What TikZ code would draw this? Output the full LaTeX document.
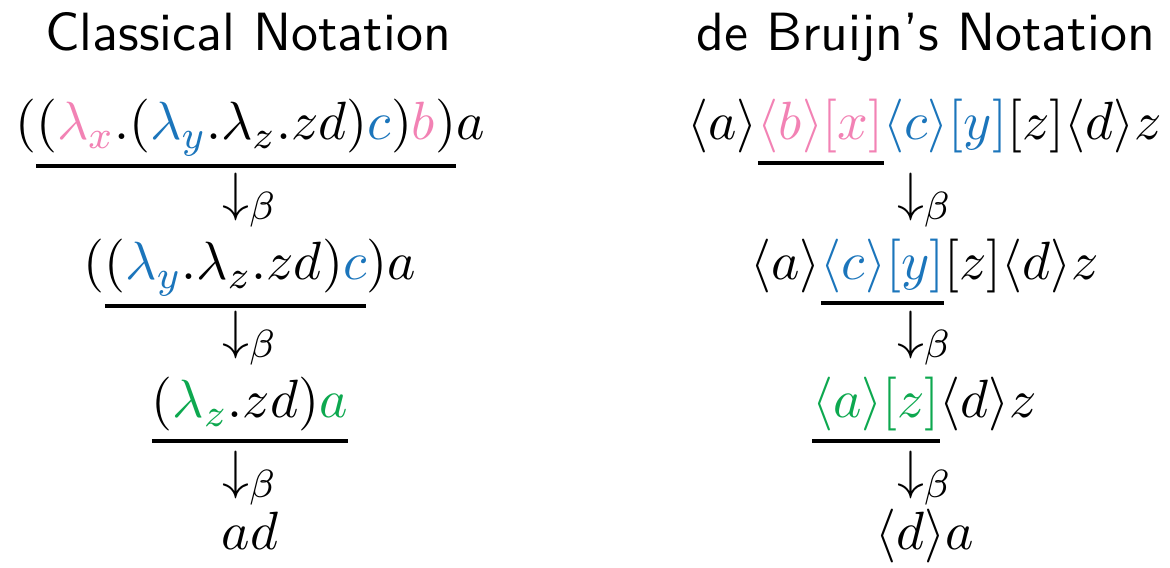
\documentclass[tikz,border=0pt]{standalone}
\usepackage{tikz}
\definecolor{cpink}{HTML}{F282B4}
\definecolor{cblue}{HTML}{1B75BB}
\definecolor{cgreen}{HTML}{0DA84F}
\newcommand{\redex}[1]{\vtop{\hbox{$#1$}\kern1.6pt\hrule height 0.8pt}}
\newcommand{\pk}[1]{{\color{cpink}#1}}
\newcommand{\bl}[1]{{\color{cblue}#1}}
\newcommand{\gr}[1]{{\color{cgreen}#1}}

\begin{document}
\begin{tikzpicture}[
  font=\fontsize{10.95}{13.6}\selectfont,
  head/.style={font=\fontsize{10.95}{13.6}\selectfont\sffamily, anchor=base, inner sep=0pt, scale=2.46},
  term/.style={anchor=base, inner sep=0pt, scale=2.46},
  beta/.style={anchor=base, inner sep=0pt, scale=2.46}
]
\useasboundingbox (-10.28,2.46) rectangle (10.28,-7.52);
% classical column
\node[head] (hcl) at (-5.92,1.58) {Classical Notation};
\node[term] (c1) at (-5.89, 0)    {$(\redex{(\pk{\lambda_x}.(\bl{\lambda_y}.\lambda_z.zd)\bl{c})\pk{b})}a$};
\node[beta] (cb1) at (-5.89,-1.24) {$\downarrow_\beta$};
\node[term] (c2) at (-5.89,-2.46) {$(\redex{(\bl{\lambda_y}.\lambda_z.zd)\bl{c}})a$};
\node[beta] (cb2) at (-5.89,-3.67) {$\downarrow_\beta$};
\node[term] (c3) at (-5.89,-4.885) {$\redex{(\gr{\lambda_z}.zd)\gr{a}}$};
\node[beta] (cb3) at (-5.89,-6.13) {$\downarrow_\beta$};
\node[term] (c4) at (-5.89,-7.20) {$ad$};
% de Bruijn column
\node[head] (hdb) at (5.99,1.58) {de Bruijn's Notation};
\node[term] (d1) at (5.97, 0)    {$\langle a\rangle\redex{\pk{\langle b\rangle[x]}}\bl{\langle c\rangle[y]}[z]\langle d\rangle z$};
\node[beta] (db1) at (5.97,-1.24) {$\downarrow_\beta$};
\node[term] (d2) at (5.97,-2.46) {$\langle a\rangle\redex{\bl{\langle c\rangle[y]}}[z]\langle d\rangle z$};
\node[beta] (db2) at (5.97,-3.67) {$\downarrow_\beta$};
\node[term] (d3) at (5.97,-4.885) {$\redex{\gr{\langle a\rangle[z]}}\langle d\rangle z$};
\node[beta] (db3) at (5.97,-6.13) {$\downarrow_\beta$};
\node[term] (d4) at (5.97,-7.20) {$\langle d\rangle a$};
\end{tikzpicture}
\end{document}
